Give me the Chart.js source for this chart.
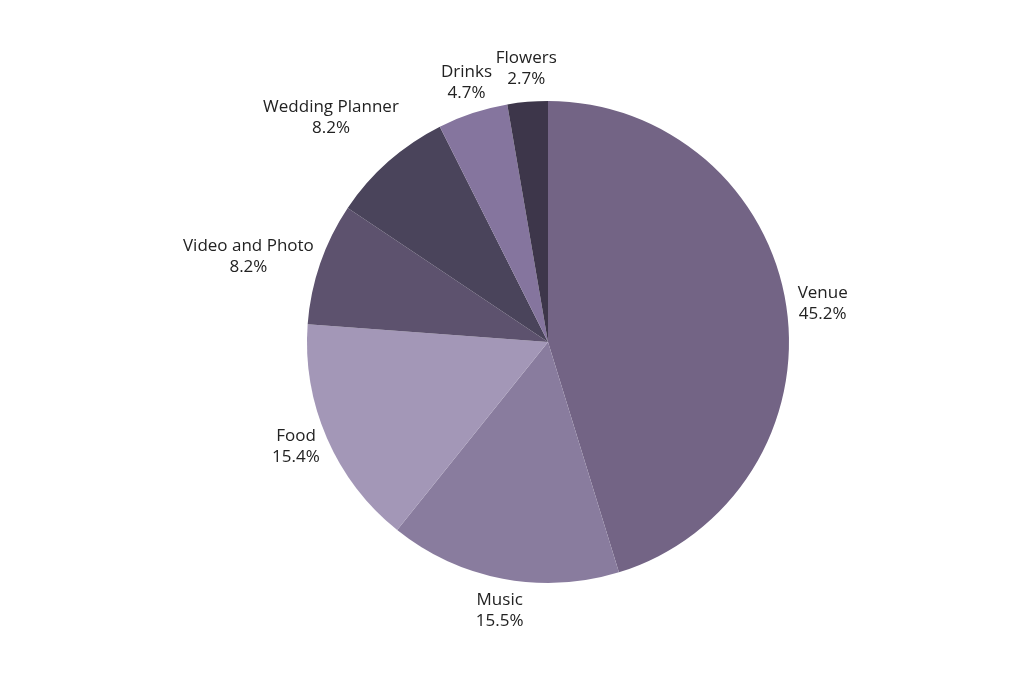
<!DOCTYPE html>
<html>
  <head>
    <title>Wedding Budget</title>
    <script src="https://cdn.jsdelivr.net/npm/chart.js"></script>
    <style>
      body { margin: 0; background: #fff; }
    </style>
  </head>
  <body>
    <canvas id="budgetChart" width="1024" height="683"></canvas>
    <script>
      const categories = ["Venue", "Music", "Food", "Video and Photo", "Wedding Planner", "Drinks", "Flowers"];
      const shares = [45.2, 15.5, 15.4, 8.2, 8.2, 4.7, 2.7];
      const sliceColors = ["#736485", "#897c9e", "#a397b7", "#5d526e", "#4a445b", "#85759e", "#3d364a"];

      // draws "name / value%" outside each slice, pushed out along the slice's middle angle
      const outsideLabels = {
        id: "outsideLabels",
        afterDatasetsDraw(chart, args, opts) {
          const ctx = chart.ctx;
          const meta = chart.getDatasetMeta(0);
          ctx.save();
          ctx.font = opts.font;
          ctx.fillStyle = opts.color;
          ctx.textAlign = "center";
          ctx.textBaseline = "middle";
          meta.data.forEach((arc, i) => {
            const { x, y, startAngle, endAngle, outerRadius } = arc.getProps(
              ["x", "y", "startAngle", "endAngle", "outerRadius"], true);
            const mid = (startAngle + endAngle) / 2;
            const lines = [categories[i], shares[i].toFixed(1) + "%"];
            const w = Math.max(...lines.map((l) => ctx.measureText(l).width));
            const h = opts.lineHeight * lines.length;
            const r = outerRadius + opts.gap + (opts.extra[i] || 0);
            const cx = x + Math.cos(mid) * (r + w / 2 * Math.abs(Math.cos(mid)));
            const cy = y + Math.sin(mid) * (r + h / 2 * Math.abs(Math.sin(mid)));
            lines.forEach((l, k) => {
              ctx.fillText(l, cx, cy - h / 2 + opts.lineHeight * (k + 0.5));
            });
          });
          ctx.restore();
        },
      };

      const ctx = document.getElementById("budgetChart").getContext("2d");

      new Chart(ctx, {
        type: "pie",
        data: {
          labels: categories,
          datasets: [
            {
              data: shares,
              backgroundColor: sliceColors,
              borderWidth: 0,
            },
          ],
        },
        options: {
          responsive: false,
          animation: false,
          layout: {
            padding: { left: 307, right: 235, top: 101, bottom: 100 },
          },
          plugins: {
            legend: { display: false },
            tooltip: { enabled: false },
            outsideLabels: {
              font: "17px 'Open Sans'",
              color: "#222222",
              lineHeight: 21,
              gap: 12,
              extra: { 3: 2, 4: 30 },
            },
          },
        },
        plugins: [outsideLabels],
      });
    </script>
  </body>
</html>
